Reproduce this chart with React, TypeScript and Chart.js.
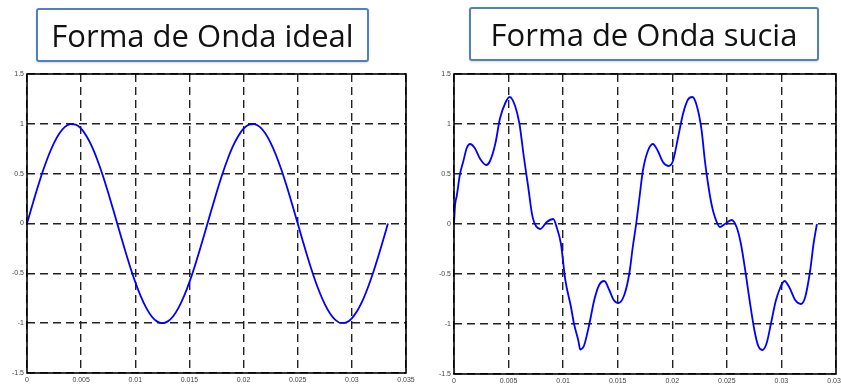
import React, { useEffect, useRef } from "react";
import { Chart, registerables } from "chart.js";

Chart.register(...registerables);

// Clean 60 Hz wave: time (s) and amplitude
const idealT = [
  0, 0.0005, 0.001, 0.0015, 0.002, 0.0025, 0.003, 0.0035, 0.004, 0.0045,
  0.005, 0.0055, 0.006, 0.0065, 0.007, 0.0075, 0.008, 0.0085, 0.009, 0.0095,
  0.01, 0.0105, 0.011, 0.0115, 0.012, 0.0125, 0.013, 0.0135, 0.014, 0.0145,
  0.015, 0.0155, 0.016, 0.0165, 0.017, 0.0175, 0.018, 0.0185, 0.019, 0.0195,
  0.02, 0.0205, 0.021, 0.0215, 0.022, 0.0225, 0.023, 0.0235, 0.024, 0.0245,
  0.025, 0.0255, 0.026, 0.0265, 0.027, 0.0275, 0.028, 0.0285, 0.029, 0.0295,
  0.03, 0.0305, 0.031, 0.0315, 0.032, 0.0325, 0.033, 0.03333,
];
const idealV = [
  0, 0.187, 0.368, 0.536, 0.685, 0.809, 0.905, 0.969, 0.998, 0.992,
  0.951, 0.876, 0.771, 0.637, 0.482, 0.309, 0.125, -0.063, -0.249, -0.426,
  -0.588, -0.729, -0.844, -0.93, -0.982, -1.0, -0.982, -0.93, -0.844, -0.729,
  -0.588, -0.426, -0.249, -0.063, 0.125, 0.309, 0.482, 0.637, 0.771, 0.876,
  0.951, 0.992, 0.998, 0.969, 0.905, 0.809, 0.685, 0.536, 0.368, 0.187,
  0, -0.187, -0.368, -0.536, -0.685, -0.809, -0.905, -0.969, -0.998, -0.992,
  -0.951, -0.876, -0.771, -0.637, -0.482, -0.309, -0.125, 0,
];

// Distorted wave (with harmonics): time (s) and amplitude
const dirtyT = [
  0, 0.0001, 0.00025, 0.00055, 0.00086, 0.00117, 0.00147, 0.0019, 0.0024, 0.00295,
  0.0033, 0.0038, 0.0042, 0.0047, 0.0051, 0.0056, 0.006, 0.0064, 0.0068, 0.0072,
  0.0079, 0.0085, 0.0091, 0.0094, 0.0098, 0.0102, 0.0107, 0.011, 0.0114, 0.01156,
  0.0119, 0.0124, 0.01285, 0.0133, 0.01377, 0.01423, 0.01463, 0.01506, 0.0156, 0.01607,
  0.01638, 0.01669, 0.017, 0.0173, 0.01776, 0.01822, 0.01868, 0.01914, 0.01966, 0.02006,
  0.02052, 0.02098, 0.02144, 0.02184, 0.02221, 0.02267, 0.023, 0.02328, 0.02359, 0.0239,
  0.02436, 0.02482, 0.02543, 0.02589, 0.02629, 0.02672, 0.02712, 0.02752, 0.02788, 0.02825,
  0.02865, 0.02905, 0.02948, 0.02988, 0.03028, 0.03071, 0.03126, 0.03178, 0.03218, 0.03264,
  0.03294, 0.03325,
];
const dirtyV = [
  0, 0.19, 0.28, 0.5, 0.63, 0.76, 0.8, 0.76, 0.65, 0.59,
  0.63, 0.81, 1.05, 1.21, 1.27, 1.18, 1.0, 0.67, 0.37, 0.07,
  -0.05, 0.02, 0.05, -0.03, -0.2, -0.56, -0.82, -1.0, -1.17, -1.255,
  -1.22, -1.0, -0.76, -0.61, -0.57, -0.66, -0.76, -0.79, -0.71, -0.49,
  -0.23, 0, 0.27, 0.53, 0.73, 0.8, 0.73, 0.62, 0.58, 0.63,
  0.86, 1.1, 1.245, 1.27, 1.195, 0.95, 0.62, 0.4, 0.2, 0.07,
  -0.03, 0, 0.04, -0.03, -0.2, -0.49, -0.79, -1.06, -1.22, -1.26,
  -1.19, -0.99, -0.77, -0.64, -0.57, -0.63, -0.76, -0.8, -0.73, -0.46,
  -0.2, 0,
];

const xTicks = [0, 0.005, 0.01, 0.015, 0.02, 0.025, 0.03, 0.035];
const yTicks = [-1.5, -1, -0.5, 0, 0.5, 1, 1.5];
const titles = ["Forma de Onda ideal", "Forma de Onda sucia"];

// Solid box around the plotting area
const framePlugin = {
  id: "frame",
  afterDraw(chart: any) {
    const { ctx, chartArea: a } = chart;
    ctx.save();
    ctx.strokeStyle = "#000";
    ctx.lineWidth = 1.6;
    ctx.strokeRect(a.left, a.top, a.right - a.left, a.bottom - a.top);
    ctx.restore();
  },
};

const fmt = (v: number) => String(+Number(v).toFixed(3));

type PanelProps = {
  t: number[];
  v: number[];
  left: number;
  width: number;
  yAxisWidth: number;
  xAxisHeight: number;
  padRight: number;
  top: number;
};

function Panel({ t, v, left, width, yAxisWidth, xAxisHeight, padRight, top }: PanelProps) {
  const ref = useRef<HTMLCanvasElement>(null);
  useEffect(() => {
    if (!ref.current) return;
    const tickFont = { size: 7, family: "Liberation Sans" };
    const chart = new Chart(ref.current, {
      type: "line",
      data: {
        datasets: [
          {
            data: t.map((x, i) => ({ x, y: v[i] })),
            borderColor: "#0000ff",
            borderWidth: 1.8,
            pointRadius: 0,
            cubicInterpolationMode: "monotone",
            fill: false,
          },
        ],
      },
      options: {
        animation: false,
        responsive: false,
        maintainAspectRatio: false,
        events: [],
        layout: { padding: { top, right: padRight, left: 0, bottom: 0 } },
        plugins: { legend: { display: false }, tooltip: { enabled: false } },
        scales: {
          x: {
            type: "linear",
            min: 0,
            max: 0.035,
            afterBuildTicks: (s: any) => {
              s.ticks = xTicks.map((value) => ({ value }));
            },
            afterFit: (s: any) => {
              s.height = xAxisHeight;
              s.paddingLeft = 0;
              s.paddingRight = 0;
            },
            grid: { color: "#222", lineWidth: 1.4, drawTicks: false },
            border: { display: false, dash: [8, 5] },
            ticks: {
              padding: 3,
              font: tickFont,
              color: "#444",
              maxRotation: 0,
              autoSkip: false,
              callback: (val: any) => fmt(val),
            },
          },
          y: {
            type: "linear",
            min: -1.5,
            max: 1.5,
            afterBuildTicks: (s: any) => {
              s.ticks = yTicks.map((value) => ({ value }));
            },
            afterFit: (s: any) => {
              s.width = yAxisWidth;
              s.paddingTop = 0;
              s.paddingBottom = 0;
            },
            grid: { color: "#222", lineWidth: 1.4, drawTicks: false },
            border: { display: false, dash: [8, 5] },
            ticks: {
              padding: 3,
              font: tickFont,
              color: "#444",
              autoSkip: false,
              callback: (val: any) => fmt(val),
            },
          },
        },
      },
      plugins: [framePlugin],
    } as any);
    return () => chart.destroy();
  }, []);
  return (
    <canvas
      ref={ref}
      width={width}
      height={386}
      style={{ position: "absolute", left, top: 0, width, height: 386, display: "block" }}
    />
  );
}

function TitleBox({ text, left, top, width, height }: { text: string; left: number; top: number; width: number; height: number }) {
  return (
    <div
      style={{
        position: "absolute",
        left,
        top,
        width,
        height,
        boxSizing: "border-box",
        border: "2.5px solid #4f81bd",
        borderRadius: 3,
        boxShadow: "0 1px 2px rgba(0,0,0,0.15)",
        background: "#fff",
        display: "flex",
        alignItems: "center",
        justifyContent: "center",
        fontFamily: "'Open Sans', sans-serif",
        fontSize: 31,
        color: "#111",
        whiteSpace: "nowrap",
      }}
    >
      {text}
    </div>
  );
}

export default function App() {
  return (
    <div style={{ position: "absolute", left: 0, top: 0, width: 841, height: 386, background: "#fff", overflow: "hidden" }}>
      <Panel t={idealT} v={idealV} left={0} width={420} yAxisWidth={27} xAxisHeight={13} padRight={14} top={74} />
      <Panel t={dirtyT} v={dirtyV} left={420} width={421} yAxisWidth={34} xAxisHeight={12} padRight={5} top={74} />
      <TitleBox text={titles[0]} left={36} top={8} width={333} height={54} />
      <TitleBox text={titles[1]} left={469} top={7} width={350} height={54} />
    </div>
  );
}
